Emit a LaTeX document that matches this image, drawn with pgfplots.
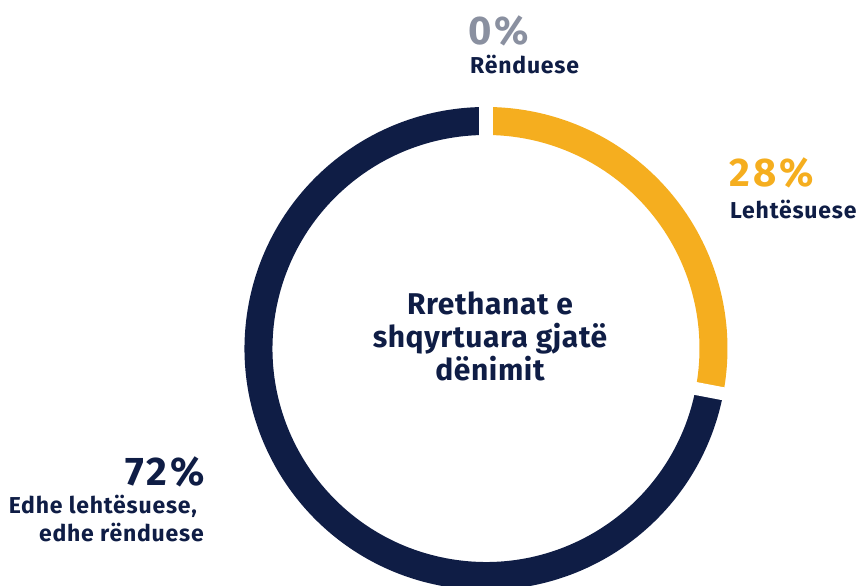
\documentclass[border=0pt]{standalone}
\usepackage{pgfplots}
\usepackage{pgfplotstable}
\pgfplotsset{compat=1.18}
\usepackage{fontspec}
\setmainfont{Fira Sans}
\newfontfamily\bigf{Fira Sans}[LetterSpace=8]
\newfontfamily\labf{Fira Sans}[LetterSpace=3.5]
\newfontfamily\cenf{Fira Sans}[LetterSpace=2]
\definecolor{navy}{HTML}{0F1D45}
\definecolor{gold}{HTML}{F5AE1F}
\definecolor{greyt}{HTML}{8A90A0}
\pgfplotstableread{
label value
Renduese 0
Lehtesuese 28
Edhe 72
}\shares
\begin{document}
\begin{tikzpicture}
\pgfplotstablegetelem{1}{value}\of\shares
\pgfmathsetmacro{\yv}{\pgfplotsretval}
\pgfmathsetmacro{\ang}{90-\yv*3.6}
\def\cx{486}\def\cy{237.5}
\begin{axis}[x=1pt,y=1pt,xmin=0,xmax=860,ymin=0,ymax=586,hide axis,clip=true]
% navy segment (72%)
\draw[navy,line width=28pt,line cap=butt]
  (axis cs:{\cx+227.5*cos(\ang)},{\cy+227.5*sin(\ang)}) arc[start angle=\ang,end angle=-270,radius=227.5pt];
% gold segment (28%)
\draw[gold,line width=28pt,line cap=butt]
  (axis cs:{\cx},{\cy+227.5}) arc[start angle=90,end angle=\ang,radius=227.5pt];
% gaps
\draw[white,line width=14pt] (axis cs:{\cx},{\cy+200}) -- (axis cs:{\cx},{\cy+260});
\draw[white,line width=13pt] (axis cs:{\cx+200*cos(\ang)},{\cy+200*sin(\ang)}) -- (axis cs:{\cx+260*cos(\ang)},{\cy+260*sin(\ang)});
% labels
\node[anchor=base west,inner sep=0,text=greyt,font=\fontsize{40}{40}\bigf\bfseries] at (axis cs:468,{586-45}) {0\%};
\node[anchor=base west,inner sep=0,text=navy,font=\fontsize{23}{23}\labf\bfseries] at (axis cs:470,{586-74}) {Rënduese};
\node[anchor=base west,inner sep=0,text=gold,font=\fontsize{40}{40}\bigf\bfseries] at (axis cs:729,{586-187}) {28\%};
\node[anchor=base west,inner sep=0,text=navy,font=\fontsize{23}{23}\labf\bfseries] at (axis cs:730,{586-219}) {Lehtësuese};
\node[anchor=base east,inner sep=0,text=navy,font=\fontsize{40}{40}\bigf\bfseries] at (axis cs:205,{586-486}) {72\%};
\node[anchor=base east,inner sep=0,text=navy,font=\fontsize{23}{23}\labf\bfseries] at (axis cs:197,{586-514}) {Edhe lehtësuese,};
\node[anchor=base east,inner sep=0,text=navy,font=\fontsize{23}{23}\labf\bfseries] at (axis cs:204,{586-542}) {edhe rënduese};
\node[anchor=base,inner sep=0,text=navy,font=\fontsize{30}{30}\cenf\bfseries] at (axis cs:490,{586-315}) {Rrethanat e};
\node[anchor=base,inner sep=0,text=navy,font=\fontsize{30}{30}\cenf\bfseries] at (axis cs:490,{586-348}) {shqyrtuara gjatë};
\node[anchor=base,inner sep=0,text=navy,font=\fontsize{30}{30}\cenf\bfseries] at (axis cs:490,{586-381}) {dënimit};
\end{axis}
\pgfresetboundingbox
\path[use as bounding box] (current axis.south west) rectangle (current axis.north east);
\end{tikzpicture}
\end{document}
